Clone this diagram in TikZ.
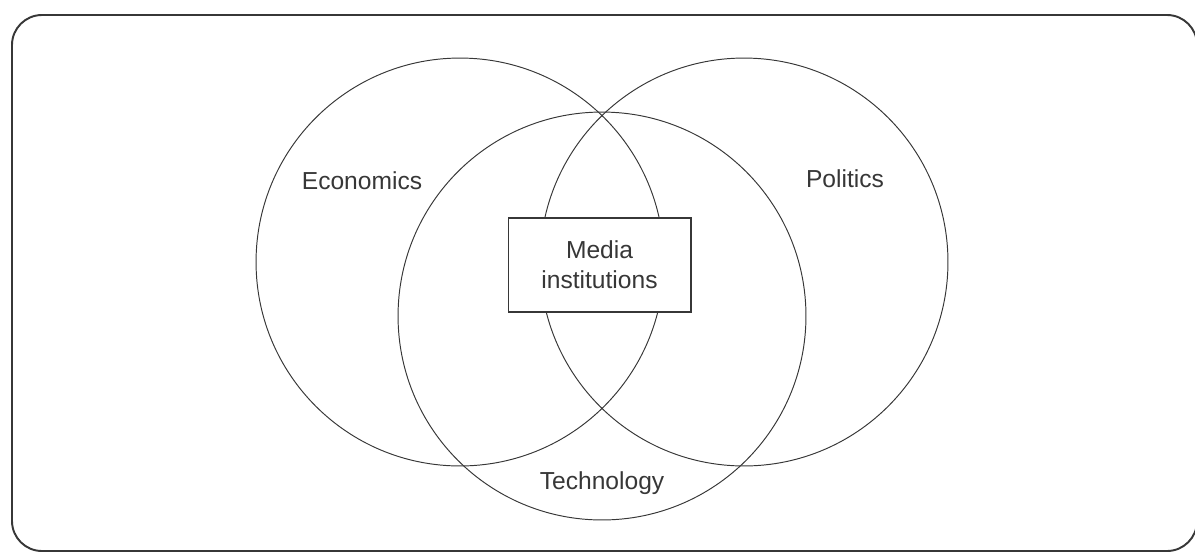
\documentclass[tikz,border=0pt]{standalone}
\usepackage{fontspec}
\setmainfont{Liberation Sans}
\usepackage{tikz}
\usetikzlibrary{positioning}
\definecolor{ink}{RGB}{55,55,55}
\tikzstyle{ring}=[draw=ink,line width=0.55pt]
\tikzstyle{lbl}=[text=ink,font=\fontsize{14}{17}\selectfont]
\tikzstyle{mbox}=[rectangle,draw=ink,line width=0.6pt,fill=white,align=center,minimum width=3.66cm,minimum height=1.88cm,text=ink,font=\fontsize{14}{17}\selectfont]

\begin{document}
\begin{tikzpicture}[x=0.02cm,y=-0.02cm]
\useasboundingbox (0,0) rectangle (1195,555);
%frame
\draw[ink,line width=1.1pt,rounded corners=0.6cm] (12,15) rectangle (1197,551);

%circles
\coordinate (econ) at (460,262);
\coordinate (polit) at (744,262);
\coordinate (tech) at (602,316);
\foreach \c in {econ,polit,tech} {
\draw[ring] (\c) circle [radius=4.08cm];
}

%labels
\node[lbl] (econlbl) at (362,181) {Economics};
\node[lbl] (politlbl) at (845,179) {Politics};
\node[lbl] (techlbl) at (602,483) {Technology};
\node[mbox] (media) at (599.5,265) {Media\\institutions};
\end{tikzpicture}
\end{document}
